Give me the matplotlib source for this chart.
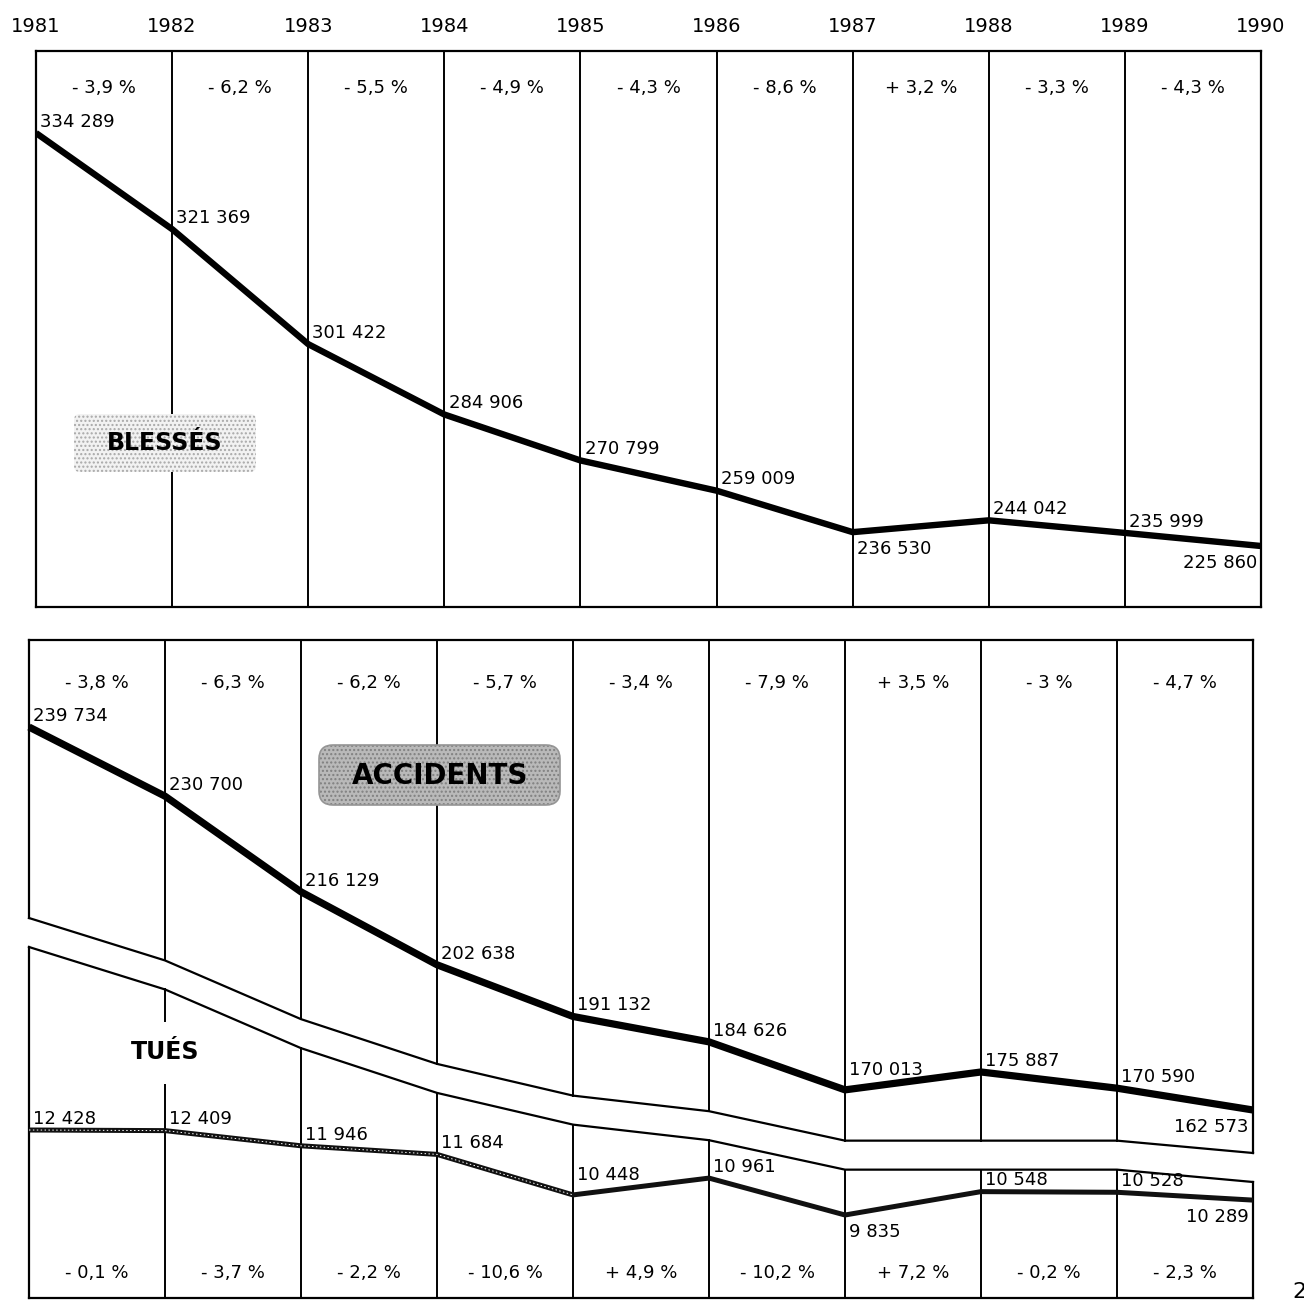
import numpy as np
import matplotlib
matplotlib.use("Agg")
import matplotlib.pyplot as plt
from matplotlib.transforms import Affine2D
from matplotlib.patches import FancyBboxPatch, Rectangle

plt.rcParams['font.family'] = ['DejaVu Sans']

# ---------------- data ----------------
years = [1981, 1982, 1983, 1984, 1985, 1986, 1987, 1988, 1989, 1990]
year_labels = [str(y) for y in years]
blesses = [334289, 321369, 301422, 284906, 270799, 259009, 236530, 244042, 235999, 225860]
accidents = [239734, 230700, 216129, 202638, 191132, 184626, 170013, 175887, 170590, 162573]
tues = [12428, 12409, 11946, 11684, 10448, 10961, 9835, 10548, 10528, 10289]
pct_blesses = ["- 3,9 %", "- 6,2 %", "- 5,5 %", "- 4,9 %", "- 4,3 %", "- 8,6 %", "+ 3,2 %", "- 3,3 %", "- 4,3 %"]
pct_accidents = ["- 3,8 %", "- 6,3 %", "- 6,2 %", "- 5,7 %", "- 3,4 %", "- 7,9 %", "+ 3,5 %", "- 3 %", "- 4,7 %"]
pct_tues = ["- 0,1 %", "- 3,7 %", "- 2,2 %", "- 10,6 %", "+ 4,9 %", "- 10,2 %", "+ 7,2 %", "- 0,2 %", "- 2,3 %"]
series_titles = ["BLESSÉS", "ACCIDENTS", "TUÉS"]

# ---------------- layout ----------------
W, H = 1304, 1302
fig = plt.figure(figsize=(W / 100, H / 100), dpi=100)
pxT = Affine2D().scale(1.0 / W, -1.0 / H).translate(0, 1) + fig.transFigure


def rect(l, t, r, b):
    return [l / W, 1 - b / H, (r - l) / W, (b - t) / H]


def power_funcs(p, ref=1e5):
    def fwd(v):
        v = np.asarray(v, dtype=float)
        return np.sign(v) * np.abs(v / ref) ** p

    def inv(t):
        t = np.asarray(t, dtype=float)
        return np.sign(t) * ref * np.abs(t) ** (1.0 / p)
    return fwd, inv


def fit_limits(fwd, inv, vals, y_hi_px, y_lo_px, top_px, bot_px):
    t_hi, t_lo = float(fwd(max(vals))), float(fwd(min(vals)))
    k = (t_hi - t_lo) / (y_lo_px - y_hi_px)
    return float(inv(t_lo - k * (bot_px - y_lo_px))), float(inv(t_hi + k * (y_hi_px - top_px)))


def fmt(v):
    return f"{v:,}".replace(",", " ")


LW_GRID = 1.4
FS = 13


def put_labels(ax, vals, special):
    for i, (x, v) in enumerate(zip(years, vals)):
        kind = special.get(i, 'a')
        if kind == 'a':
            ax.annotate(fmt(v), (x, v), xytext=(3, 4.5), textcoords='offset points',
                        ha='left', va='baseline', fontsize=FS, zorder=6)
        elif kind == 'a2':
            ax.annotate(fmt(v), (x, v), xytext=(3, 11), textcoords='offset points',
                        ha='left', va='baseline', fontsize=FS, zorder=6)
        elif kind == 'b':
            ax.annotate(fmt(v), (x, v), xytext=(3, -6), textcoords='offset points',
                        ha='left', va='top', fontsize=FS, zorder=6)
        else:
            ax.annotate(fmt(v), (x, v), xytext=(-3, -6), textcoords='offset points',
                        ha='right', va='top', fontsize=FS, zorder=6)


# ---------------- top panel : BLESSÉS ----------------
T1, B1 = 51, 607
ax1 = fig.add_axes(rect(36, T1, 1261, B1))
f1, i1 = power_funcs(6)
ax1.set_yscale('function', functions=(f1, i1))
ax1.set_xlim(years[0], years[-1])
ax1.set_ylim(*fit_limits(f1, i1, blesses, 133, 546, T1, B1))
ax1.set_yticks([])
ax1.yaxis.set_minor_locator(matplotlib.ticker.NullLocator())
ax1.set_xticks(years)
ax1.set_xticklabels(year_labels, fontsize=14)
ax1.xaxis.tick_top()
ax1.tick_params(axis='x', length=0, pad=11)
for s in ax1.spines.values():
    s.set_linewidth(1.6)
for yr in years[1:-1]:
    ax1.axvline(yr, color='k', lw=LW_GRID, zorder=1)
ax1.plot(years, blesses, color='k', lw=4.6, solid_joinstyle='round',
         solid_capstyle='butt', zorder=4)
put_labels(ax1, blesses, {6: 'b', 9: 'br'})
xt1 = ax1.get_xaxis_transform()
for i, s in enumerate(pct_blesses):
    ax1.text(years[i] + 0.5, 1 - (88 - T1) / (B1 - T1), s, transform=xt1,
             ha='center', va='center', fontsize=FS)

# ---------------- middle/bottom block : ACCIDENTS + TUÉS ----------------
T2, B2 = 640, 1298
pos2 = rect(29, T2, 1253, B2)
ax2 = fig.add_axes(pos2)
f2, i2 = power_funcs(4)
ax2.set_yscale('function', functions=(f2, i2))
ax2.set_xlim(years[0], years[-1])
ax2.set_ylim(*fit_limits(f2, i2, accidents, 727, 1110, T2, B2))
ax2.axis('off')

ax3 = fig.add_axes(pos2, sharex=ax2)
ax3.set_ylim(*fit_limits(lambda v: np.asarray(v, float), lambda t: np.asarray(t, float),
                         tues, 1130, 1215, T2, B2))
ax3.axis('off')
ax3.patch.set_visible(False)

xt2 = ax2.get_xaxis_transform()
hpx = B2 - T2

# decorative band separating the two panels, following the running minimum of accidents
cm = np.minimum.accumulate(np.array(accidents, dtype=float))
fa = (f2(cm) - f2(min(accidents))) / (f2(max(accidents)) - f2(min(accidents)))
A_px = 918 + 235 * (1 - fa)
A = (B2 - A_px) / hpx
Bnd = A - 29.0 / hpx

kw = dict(color='k', transform=xt2, clip_on=False, solid_capstyle='projecting')
ax2.plot([years[0], years[-1]], [1, 1], lw=1.6, **kw)
ax2.plot([years[0], years[-1]], [0, 0], lw=1.6, **kw)
ax2.plot(years, A, lw=1.6, **kw)
ax2.plot(years, Bnd, lw=1.6, **kw)
for i, yr in enumerate(years):
    lw = 1.6 if i in (0, len(years) - 1) else LW_GRID
    ax2.plot([yr, yr], [A[i], 1], lw=lw, **kw)
    ax2.plot([yr, yr], [0, Bnd[i]], lw=lw, **kw)

ax2.plot(years, accidents, color='k', lw=5.2, solid_joinstyle='round',
         solid_capstyle='butt', zorder=4, clip_on=False)
put_labels(ax2, accidents, {6: 'a2', 9: 'br'})

ax3.plot(years, tues, color='#111111', lw=3.6, solid_joinstyle='round',
         solid_capstyle='butt', zorder=4, clip_on=False)
ax3.plot(years[:5], tues[:5], color='white', lw=0.7, ls=(0, (1.5, 2.5)), zorder=5, clip_on=False)
put_labels(ax3, tues, {4: 'a2', 6: 'b', 9: 'br'})

for i, s in enumerate(pct_accidents):
    ax2.text(years[i] + 0.5, 1 - (683 - T2) / hpx, s, transform=xt2,
             ha='center', va='center', fontsize=FS)
for i, s in enumerate(pct_tues):
    ax2.text(years[i] + 0.5, (B2 - 1273) / hpx, s, transform=xt2,
             ha='center', va='center', fontsize=FS)

# ---------------- titles ----------------
fig.patches.append(FancyBboxPatch((74, 414), 182, 58, boxstyle='round,pad=0,rounding_size=6',
                                  transform=pxT, fc='#f2f2f2', ec='#a8a8a8', lw=0,
                                  hatch='....', zorder=5))
fig.text(165 / W, 1 - 443 / H, series_titles[0], ha='center', va='center',
         fontsize=17, fontweight='bold', zorder=6)

fig.patches.append(FancyBboxPatch((319, 745), 241, 60, boxstyle='round,pad=0,rounding_size=14',
                                  transform=pxT, fc='#b9b9b9', ec='#808080', lw=0,
                                  hatch='....', zorder=5))
fig.patches.append(FancyBboxPatch((319, 745), 241, 60, boxstyle='round,pad=0,rounding_size=14',
                                  transform=pxT, fc='none', ec='#959595', lw=1.2, zorder=5))
fig.text(440 / W, 1 - 776 / H, series_titles[1], ha='center', va='center',
         fontsize=20, fontweight='bold', zorder=6)

fig.patches.append(Rectangle((105, 1022), 120, 62, transform=pxT, fc='white', ec='none', zorder=5))
fig.text(165 / W, 1 - 1052 / H, series_titles[2], ha='center', va='center',
         fontsize=17, fontweight='bold', zorder=6)

fig.text(1292 / W, 1 - 1302 / H, "2", ha='left', va='bottom', fontsize=16)

fig.savefig("out.png", dpi=100, facecolor='white')
